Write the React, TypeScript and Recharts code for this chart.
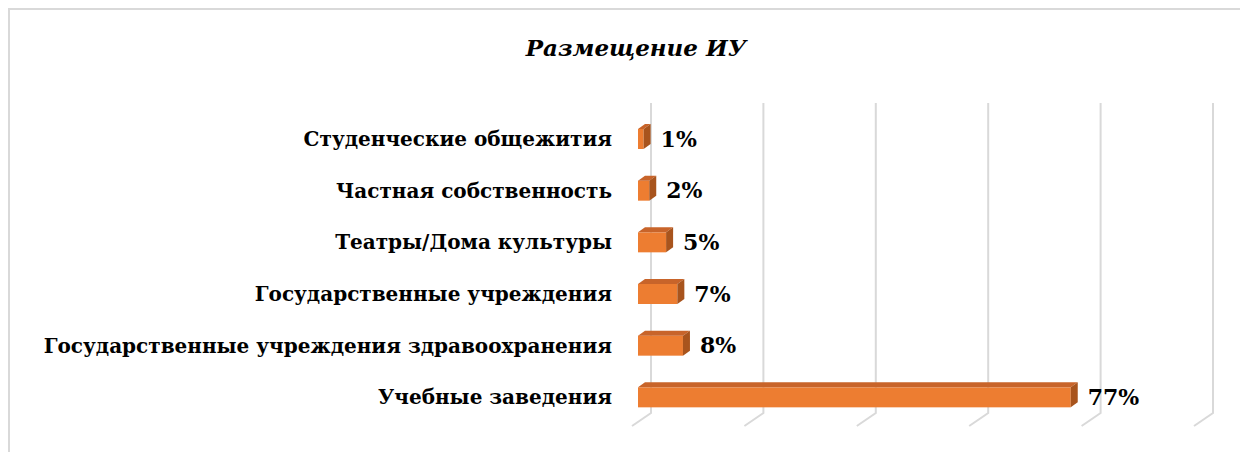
import React from 'react';
import { BarChart, Bar, XAxis, YAxis, CartesianGrid, LabelList } from 'recharts';

const categories = [
  'Студенческие общежития ',
  'Частная собственность',
  'Театры/Дома культуры',
  'Государственные учреждения',
  'Государственные учреждения здравоохранения',
  'Учебные заведения',
];
const shares = [1, 2, 5, 7, 8, 77];
const xTicks = [0, 20, 40, 60, 80, 100];

const FONT = '"DejaVu Serif", serif';
const DX = 7;
const DY = 5;

const chartData = categories.map((name, i) => ({ name, value: shares[i] }));

const Bar3D = (props: any) => {
  const { x, y, width, height } = props;
  const w = Math.max(width, 0);
  return (
    <g>
      <rect x={x} y={y} width={w} height={height} fill="#ED7D31" />
      <polygon
        points={`${x},${y} ${x + DX},${y - DY} ${x + w + DX},${y - DY} ${x + w},${y}`}
        fill="#C8642A"
      />
      <polygon
        points={`${x + w},${y} ${x + w + DX},${y - DY} ${x + w + DX},${y + height - DY} ${x + w},${y + height}`}
        fill="#A8541D"
      />
    </g>
  );
};

const GridLine = (props: any) => {
  const { x1, y1, y2 } = props;
  return (
    <path
      key={props.key}
      d={`M${x1 + 13},${y1 - 10} L${x1 + 13},${y2 - 10} L${x1 - 6},${y2 + 3}`}
      stroke="#D9D9D9"
      strokeWidth={2}
      fill="none"
    />
  );
};

const NoTick = () => <g />;

export default function App() {
  return (
    <div style={{ position: 'relative', width: 1240, height: 444 }}>
      <div
        style={{
          position: 'absolute',
          inset: 0,
          borderTop: '2px solid #D9D9D9',
          borderLeft: '2px solid #D9D9D9',
        }}
      />
      <div
        style={{
          position: 'absolute',
          left: 328,
          top: 28,
          width: 600,
          textAlign: 'center',
          fontFamily: FONT,
          fontWeight: 'bold',
          fontStyle: 'italic',
          fontSize: 23,
          lineHeight: '23px',
          color: '#000',
        }}
      >
        Размещение ИУ
      </div>
      <div style={{ position: 'absolute', left: 0, top: 0 }}>
        <BarChart
          width={1240}
          height={444}
          data={chartData}
          layout="vertical"
          margin={{ top: 105, right: 48, bottom: 29, left: 0 }}
          barSize={20}
        >
          <CartesianGrid horizontal={false} vertical={GridLine as any} />
          <XAxis
            type="number"
            domain={[0, 100]}
            ticks={xTicks}
            interval={0}
            tick={NoTick}
            axisLine={false}
            tickLine={false}
            height={0}
          />
          <YAxis
            type="category"
            dataKey="name"
            width={630}
            axisLine={false}
            tickLine={false}
            tickMargin={20}
            interval={0}
            tick={{ fontFamily: FONT, fontWeight: 'bold', fontSize: 20, fill: '#000' }}
          />
          <Bar dataKey="value" shape={Bar3D} isAnimationActive={false}>
            <LabelList
              dataKey="value"
              position="right"
              offset={17}
              formatter={(v: any) => `${v}%`}
              style={{ fontFamily: FONT, fontWeight: 'bold', fontSize: 22, fill: '#000' }}
            />
          </Bar>
        </BarChart>
      </div>
    </div>
  );
}
